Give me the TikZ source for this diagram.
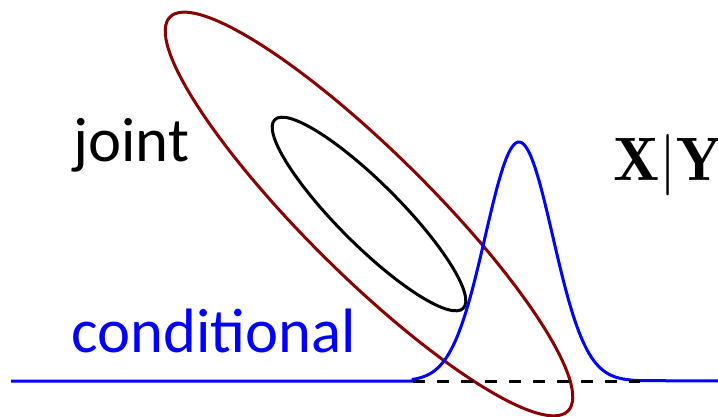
\RequirePackage{fix-cm}
\documentclass[tikz,border=0pt]{standalone}
\usepackage{fontspec}
\newfontfamily\calib{Carlito}
\definecolor{darkred}{RGB}{136,0,0}
\begin{document}
\begin{tikzpicture}[x=0.75pt,y=-0.75pt,line width=2.25pt,
        lbl/.style={font=\calib\fontsize{47}{56}\selectfont, inner sep=0pt, anchor=base west}]
        \useasboundingbox (0,0) rectangle (718,417);
        \coordinate (ctr) at (369,214);
        % contours of the joint
        \draw[darkred, rotate around={-44.7:(ctr)}] (ctr) ellipse [x radius=210pt, y radius=46.5pt];
        \draw[black, rotate around={-45:(ctr)}] (ctr) ellipse [x radius=100pt, y radius=23.3pt];
        % conditional density
        \draw[blue] (11,381) -- (413,381) -- plot[domain=413:640, samples=120] (\x,{381-239*exp(-((\x-519)^2)/2271)}) -- (718,381);
        \draw[dash pattern=on 9pt off 9pt] (413,381) -- (640,381);
        \node[lbl] (joint) at (72,162) {joint};
        \node[lbl, blue] (cond) at (70,352) {conditional};
        \node[inner sep=0pt, anchor=base west, font=\fontsize{46}{52}\selectfont] (xy) at (612,181) {$\mathbf{X}|\mathbf{Y}$};
    \end{tikzpicture}
\end{document}
